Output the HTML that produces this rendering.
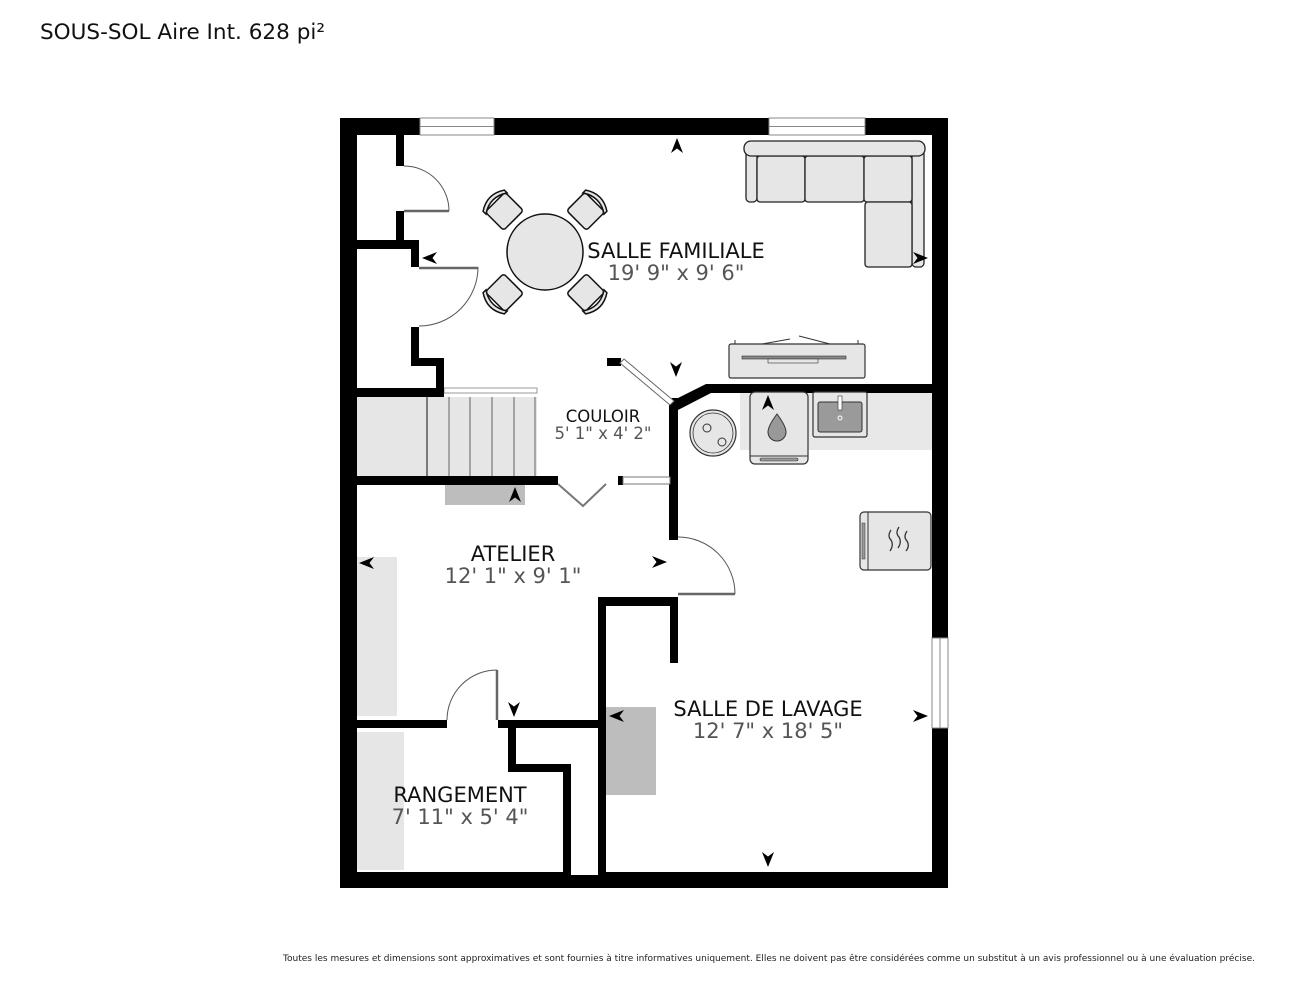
<!DOCTYPE html>
<html><head><meta charset="utf-8"><style>
html,body{margin:0;padding:0;background:#fff;}
svg{display:block;}
text{font-family:"DejaVu Sans","Liberation Sans",sans-serif;}
</style></head><body>
<svg width="1295" height="1000" viewBox="0 0 1295 1000" xmlns="http://www.w3.org/2000/svg">
<defs>
<path id="ar" d="M0,-8 L6,7 L0,2.5 L-6,7 Z" fill="#000"/>
</defs>
<rect width="1295" height="1000" fill="#fff"/>
<text x="40" y="39" font-size="21.5" fill="#111" textLength="285" lengthAdjust="spacingAndGlyphs">SOUS-SOL Aire Int. 628 pi²</text>

<rect x="357" y="397" width="180" height="79" fill="#e6e6e6"/>
<rect x="445" y="485" width="80" height="20" fill="#bdbdbd"/>
<rect x="357" y="557" width="40" height="159" fill="#e6e6e6"/>
<rect x="357" y="732" width="47" height="138" fill="#e6e6e6"/>
<rect x="606" y="707" width="50" height="88" fill="#bdbdbd"/>
<rect x="740" y="392" width="192" height="58" fill="#e8e8e8"/>

<g stroke="#333" stroke-width="1.2">
<line x1="427" y1="397" x2="427" y2="476"/>
<line x1="449" y1="397" x2="449" y2="476" stroke="#777"/>
<line x1="470" y1="397" x2="470" y2="476" stroke="#777"/>
<line x1="492" y1="397" x2="492" y2="476" stroke="#777"/>
<line x1="514" y1="397" x2="514" y2="476" stroke="#777"/>
<line x1="535" y1="397" x2="535" y2="476" stroke="#777"/>
</g>
<rect x="444" y="388" width="93" height="5" fill="#fff" stroke="#999" stroke-width="1"/>

<g fill="#000">
<rect x="340" y="118" width="608" height="17"/>
<rect x="340" y="118" width="17" height="770"/>
<rect x="932" y="118" width="16" height="770"/>
<rect x="340" y="872" width="608" height="16"/>
<rect x="396" y="118" width="8" height="131"/>
<rect x="340" y="240" width="79" height="9"/>
<rect x="411" y="240" width="8" height="126"/>
<rect x="411" y="358" width="33" height="8"/>
<rect x="436" y="358" width="8" height="39"/>
<rect x="340" y="388" width="104" height="9"/>
<rect x="340" y="476" width="218" height="9"/>
<rect x="618" y="476" width="5" height="9"/>
<polygon points="669,405 669,540 678,540 678,410 711,393 932,393 932,384 706,384 678,398 672,398"/>
<rect x="607" y="358" width="14" height="8"/>
<rect x="598" y="597" width="80" height="9"/>
<rect x="598" y="597" width="8" height="291"/>
<rect x="670" y="597" width="8" height="66"/>
<rect x="340" y="720" width="107" height="8"/>
<rect x="498" y="720" width="100" height="8"/>
<rect x="508" y="720" width="8" height="52"/>
<rect x="508" y="764" width="63" height="8"/>
<rect x="563" y="764" width="8" height="124"/>
</g>
<rect x="571" y="872" width="27" height="3" fill="#fff"/>

<g fill="#fff" stroke="#888" stroke-width="1">
<rect x="420" y="118" width="74" height="17"/>
<line x1="420" y1="126.5" x2="494" y2="126.5"/>
<rect x="769" y="118" width="96" height="17"/>
<line x1="769" y1="126.5" x2="865" y2="126.5"/>
<rect x="932" y="638" width="16" height="90"/>
<line x1="940" y1="638" x2="940" y2="728"/>
</g>

<g fill="none" stroke="#555" stroke-width="1">
<rect x="396" y="166" width="8" height="45" fill="#fff" stroke="none"/>
<path d="M404,166 A45,45 0 0 1 449,211"/>
<rect x="411" y="267" width="8" height="60" fill="#fff" stroke="none"/>
<path d="M478,267 A59,59 0 0 1 419,326"/>
<path d="M678,537 A57,57 0 0 1 735,594"/>
<path d="M447,720 A50,50 0 0 1 497,670"/>
</g>
<g stroke="#666" stroke-width="2.5">
<line x1="404" y1="211" x2="449" y2="211"/>
<line x1="419" y1="268" x2="478" y2="268"/>
<line x1="678" y1="594" x2="735" y2="594"/>
<line x1="497" y1="670" x2="497" y2="720"/>
</g>
<polyline points="558,484 583,506 606,484" fill="none" stroke="#777" stroke-width="2"/>
<rect x="623" y="477" width="47" height="7" fill="#fff" stroke="#777" stroke-width="1"/>
<polygon points="620,363 624,359 674,401 670,405" fill="#fff" stroke="#666" stroke-width="1"/>

<g fill="#e6e6e6" stroke="#111" stroke-width="1.5">
<circle cx="545" cy="252" r="38"/>
<g transform="translate(505,212) rotate(-45)"><rect x="-14" y="-14" width="28" height="26" rx="3"/><path d="M-15,-12 Q0,-22 15,-12 L15,-16 Q0,-26 -15,-16 Z"/></g>
<g transform="translate(585,212) rotate(45)"><rect x="-14" y="-14" width="28" height="26" rx="3"/><path d="M-15,-12 Q0,-22 15,-12 L15,-16 Q0,-26 -15,-16 Z"/></g>
<g transform="translate(505,292) rotate(-135)"><rect x="-14" y="-14" width="28" height="26" rx="3"/><path d="M-15,-12 Q0,-22 15,-12 L15,-16 Q0,-26 -15,-16 Z"/></g>
<g transform="translate(585,292) rotate(135)"><rect x="-14" y="-14" width="28" height="26" rx="3"/><path d="M-15,-12 Q0,-22 15,-12 L15,-16 Q0,-26 -15,-16 Z"/></g>
</g>

<g fill="#e6e6e6" stroke="#222" stroke-width="1.3">
<rect x="746" y="150" width="11" height="52" rx="4"/>
<rect x="912" y="150" width="12" height="117" rx="4"/>
<rect x="757" y="156" width="48" height="46" rx="3"/>
<rect x="805" y="156" width="59" height="46" rx="3"/>
<rect x="864" y="156" width="48" height="46" rx="3"/>
<rect x="865" y="202" width="47" height="65" rx="3"/>
<rect x="744" y="141" width="181" height="15" rx="7"/>
</g>

<rect x="729" y="344" width="136" height="34" rx="2" fill="#e6e6e6" stroke="#333" stroke-width="1.2"/>
<rect x="742" y="356" width="104" height="3" fill="#888" stroke="#333" stroke-width="0.6"/>
<rect x="768" y="359" width="50" height="4" fill="#e6e6e6" stroke="#333" stroke-width="0.6"/>
<path d="M735,344 L735,340 M762,344 L790,339 M799,336 L830,344 M858,344 L858,340" stroke="#333" stroke-width="1"/>

<circle cx="713" cy="433" r="23" fill="#e6e6e6" stroke="#333" stroke-width="1.2"/>
<circle cx="713" cy="433" r="20" fill="none" stroke="#333" stroke-width="0.8"/>
<circle cx="707" cy="428" r="4" fill="none" stroke="#333"/>
<circle cx="722" cy="442" r="4" fill="none" stroke="#333"/>

<rect x="750" y="392" width="58" height="72" rx="5" fill="#e6e6e6" stroke="#333" stroke-width="1.2"/>
<line x1="750" y1="456" x2="808" y2="456" stroke="#333"/>
<rect x="760" y="458" width="38" height="3" rx="1.5" fill="#999" stroke="#333" stroke-width="0.6"/>
<path d="M777,414 C783,422 786,428 786,432 A9,9 0 0 1 768,432 C768,428 771,422 777,414 Z" fill="#999" stroke="#333"/>
<rect x="813" y="392" width="54" height="45" rx="2" fill="#e6e6e6" stroke="#333" stroke-width="1.2"/>
<rect x="818" y="402" width="44" height="30" rx="2" fill="#9a9a9a" stroke="#333"/>
<rect x="838" y="396" width="4" height="14" fill="#fff" stroke="#333" stroke-width="0.6"/>
<circle cx="840" cy="418" r="2" fill="none" stroke="#fff"/>
<rect x="860" y="512" width="71" height="58" rx="4" fill="#e6e6e6" stroke="#333" stroke-width="1.2"/>
<line x1="868" y1="512" x2="868" y2="570" stroke="#333"/>
<rect x="862" y="523" width="3" height="36" fill="#999" stroke="#333" stroke-width="0.5"/>
<path d="M891,530 q-4,6 0,10 q3,5 -1,11 M899,527 q-4,6 0,10 q3,5 -1,11 M907,531 q-4,6 0,10 q3,5 -1,10" fill="none" stroke="#333" stroke-width="1.3"/>

<use href="#ar" transform="translate(677,146)"/>
<use href="#ar" transform="translate(920,258) rotate(90)"/>
<use href="#ar" transform="translate(430,258) rotate(-90)"/>
<use href="#ar" transform="translate(676,369) rotate(180)"/>
<use href="#ar" transform="translate(515,495)"/>
<use href="#ar" transform="translate(768,403)"/>
<use href="#ar" transform="translate(659,562) rotate(90)"/>
<use href="#ar" transform="translate(367,563) rotate(-90)"/>
<use href="#ar" transform="translate(514,709) rotate(180)"/>
<use href="#ar" transform="translate(617,716) rotate(-90)"/>
<use href="#ar" transform="translate(920,716) rotate(90)"/>
<use href="#ar" transform="translate(768,859) rotate(180)"/>

<g text-anchor="middle">
<text x="676" y="258" font-size="21" fill="#111">SALLE FAMILIALE</text>
<text x="676" y="280" font-size="21" fill="#555">19' 9" x 9' 6"</text>
<text x="603" y="422" font-size="16.5" fill="#111">COULOIR</text>
<text x="603" y="439" font-size="16.5" fill="#555">5' 1" x 4' 2"</text>
<text x="513" y="561" font-size="21" fill="#111">ATELIER</text>
<text x="513" y="583" font-size="21" fill="#555">12' 1" x 9' 1"</text>
<text x="768" y="716" font-size="21" fill="#111">SALLE DE LAVAGE</text>
<text x="768" y="738" font-size="21" fill="#555">12' 7" x 18' 5"</text>
<text x="460" y="802" font-size="21" fill="#111">RANGEMENT</text>
<text x="460" y="824" font-size="21" fill="#555">7' 11" x 5' 4"</text>
</g>

<text x="283" y="961" font-size="9" fill="#222" textLength="972" lengthAdjust="spacingAndGlyphs">Toutes les mesures et dimensions sont approximatives et sont fournies à titre informatives uniquement. Elles ne doivent pas être considérées comme un substitut à un avis professionnel ou à une évaluation précise.</text>
</svg>
</body></html>
